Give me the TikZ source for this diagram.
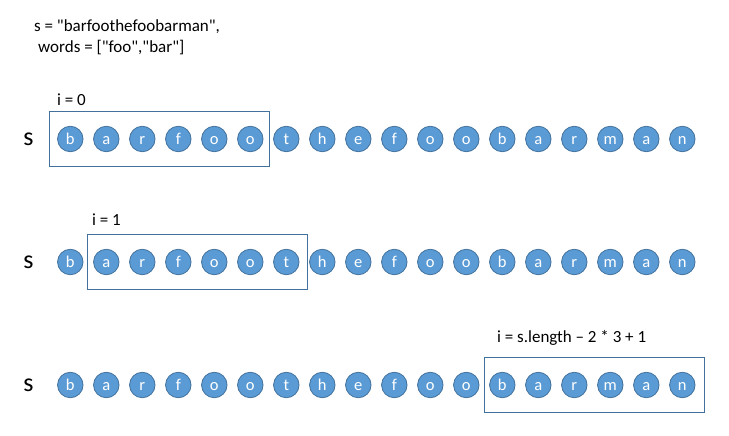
\documentclass[tikz,border=0pt]{standalone}
\usepackage{fontspec}
\setmainfont{Carlito}[Ligatures=TeXOff]
\definecolor{cfill}{HTML}{5B9BD5}
\definecolor{cedge}{HTML}{41719C}
\definecolor{rectedge}{HTML}{41719C}
\begin{document}
\begin{tikzpicture}[x=1pt,y=-1pt,
  letter/.style={circle,fill=cfill,draw=cedge,line width=0.8pt,minimum size=25.5pt,inner sep=0pt,text=white,text height=11pt,text depth=0pt,font=\fontsize{16.5}{16.5}\selectfont},
  window/.style={draw=rectedge,line width=1.1pt,minimum width=220pt,minimum height=55pt,inner sep=0pt},
  label/.style={anchor=west,inner sep=0pt,font=\fontsize{17}{17}\selectfont},
  toplabel/.style={anchor=west,inner sep=0pt,font=\fontsize{17}{17}\selectfont},
  slabel/.style={inner sep=0pt,font=\fontsize{26}{26}\selectfont}]
\useasboundingbox (0,0) rectangle (729,436);
\node[toplabel] (t1) at (34,27) {s = "barfoothefoobarman",};
\node[toplabel] (t2) at (38,48) {words = ["foo","bar"]};
\def\str{b,a,r,f,o,o,t,h,e,f,o,o,b,a,r,m,a,n}
\foreach \row/\yy in {1/139,2/262,3/385}{
  \node[slabel] (s\row) at (28.5,\yy) {s};
  \foreach \ch [count=\k from 0] in \str {
    \node[letter] (c\row-\k) at ({70.3+36*\k},\yy) {\ch};
  }
}
\node[window] (w1) at (159.3,139) {};
\node[window] (w2) at (197.3,262) {};
\node[window] (w3) at (594.8,385) {};
\node[label] (i0) at (57,100) {i = 0};
\node[label] (i1) at (92,220) {i = 1};
\node[label] (i2) at (497,338) {i = s.length – 2 * 3 + 1};
\end{tikzpicture}
\end{document}
